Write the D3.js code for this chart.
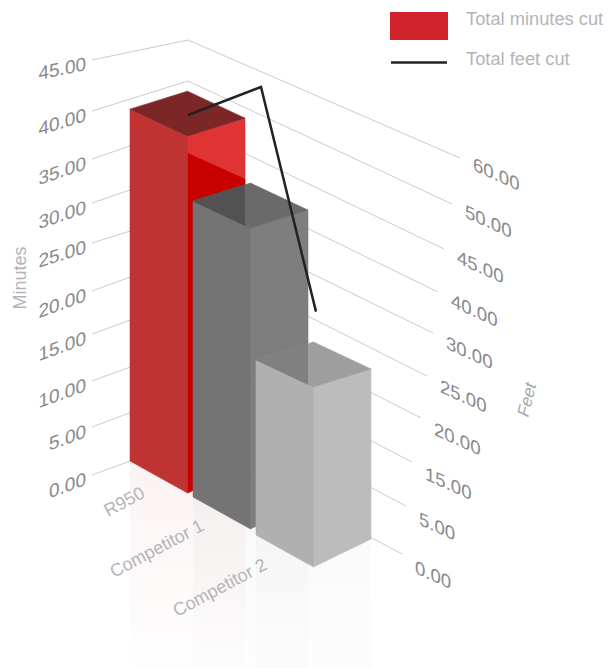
<!DOCTYPE html>
<html>
<head>
<meta charset="utf-8">
<script src="https://cdn.jsdelivr.net/npm/d3@7"></script>
<style>
  html, body { margin: 0; padding: 0; background: #fff; }
  text { font-family: "Liberation Sans", Arial, sans-serif; }
</style>
</head>
<body>
<svg id="chart" width="609" height="668"></svg>
<script>
const categories = ["R950", "Competitor 1", "Competitor 2"];
const minutesCut = [39, 32.8, 19.4];
const feetCut = [52.2, 61.8, 33.8];
const minuteTicks = [0, 5, 10, 15, 20, 25, 30, 35, 40, 45];
const feetTicks = [0, 5, 15, 20, 25, 30, 40, 45, 50, 60];

const svg = d3.select("#chart");
const defs = svg.append("defs");

// The walls of the 3d box: pixel rows of each tick at left end, back corner, right end
const leftY = d3.scaleLinear().domain(minuteTicks).range([475, 427, 381, 334, 291, 243, 203, 159, 111, 60]);
const cornerY = d3.scaleLinear().domain(minuteTicks).range([440, 391, 346, 299, 256, 213, 170, 126, 81, 40]);
const rightY = d3.scaleLinear().domain(feetTicks).range([554, 506, 462, 418, 376, 333, 292, 249, 204, 158]);
const rightX = d3.scaleLinear().domain(feetTicks).range([402, 406, 412, 421, 427, 433, 438, 444, 452, 460]);

const barX = d3.scalePoint().domain(categories).range([130, 256]);
const barBase = d3.scaleOrdinal().domain(categories).range([461, 497, 535]);
const barHeight = d3.scaleLinear().domain([0, 45]).range([0, 406]);
const lineX = d3.scaleOrdinal().domain(categories).range([188, 261, 316]);
const lineHeight = d3.scaleLinear().domain([0, 60]).range([0, 400]);

const faceW = 57.5;
const poly = pts => pts.map(p => p.join(",")).join(" ");

// Grid
const grid = svg.append("g").attr("fill", "none").attr("stroke", "#cbcbcb").attr("stroke-width", 1);
minuteTicks.forEach((m, i) => {
  const f = feetTicks[i];
  grid.append("polyline")
    .attr("points", poly([[92, leftY(m)], [188, cornerY(m)], [rightX(f), rightY(f)]]));
});

// Tick labels
svg.append("g").selectAll("text").data(minuteTicks).join("text")
  .attr("text-anchor", "end")
  .attr("font-size", 19)
  .attr("fill", "#8a8a8e")
  .attr("transform", d => {
    const slope = (cornerY(d) - leftY(d)) / 96;
    return `translate(86,${leftY(d) + 10}) skewY(${Math.atan(slope) * 180 / Math.PI})`;
  })
  .text(d => d.toFixed(2));

svg.append("g").selectAll("text").data(feetTicks).join("text")
  .attr("font-size", 18.6)
  .attr("fill", "#8a8a8e")
  .attr("transform", d => `translate(${rightX(d) + 13},${rightY(d) + d3.scaleLinear([0, 60], [19, 12])(d)}) skewY(24.5)`)
  .text(d => d.toFixed(2));

// Axis titles
svg.append("text")
  .attr("transform", "translate(26,278) rotate(-90)")
  .attr("text-anchor", "middle")
  .attr("font-size", 18)
  .attr("fill", "#b4b4b8")
  .text("Minutes");
svg.append("text")
  .attr("transform", "translate(532,402) rotate(-76) skewX(-12)")
  .attr("text-anchor", "middle")
  .attr("font-size", 17)
  .attr("fill", "#a8a8ac")
  .text("Feet");

// Floor reflections
const barColors = [
  { left: "#c03333", right: "#e03434", low: "#c80000", top: "#7c2628", over: "#7c2628", glow: "#c03333", glowOp: 0.06 },
  { left: "#747474", right: "#7e7e7e", low: "#7e7e7e", top: "#6a6a6a", over: "#525252", glow: "#747474", glowOp: 0.045 },
  { left: "#b0b0b0", right: "#bcbcbc", low: "#bcbcbc", top: "#9e9e9e", over: "#808080", glow: "#8a8a8a", glowOp: 0.04 }
];

categories.forEach((c, i) => {
  const g = defs.append("linearGradient").attr("id", `glow-${i}`)
    .attr("x1", 0).attr("y1", 0).attr("x2", 0).attr("y2", 1);
  g.append("stop").attr("offset", 0).attr("stop-color", barColors[i].glow).attr("stop-opacity", barColors[i].glowOp);
  g.append("stop").attr("offset", 1).attr("stop-color", barColors[i].glow).attr("stop-opacity", 0);
});

const reflect = svg.append("g");
categories.forEach((c, i) => {
  const x0 = barX(c), y0 = barBase(c), len = 200;
  reflect.append("polygon").attr("fill", `url(#glow-${i})`)
    .attr("points", poly([[x0, y0], [x0 + faceW, y0 + 32], [x0 + faceW, y0 + 32 + len], [x0, y0 + len]]));
  reflect.append("polygon").attr("fill", `url(#glow-${i})`)
    .attr("points", poly([[x0 + faceW, y0 + 32], [x0 + faceW * 2, y0 + 4], [x0 + faceW * 2, y0 + 4 + len], [x0 + faceW, y0 + 32 + len]]));
});

// Bars
const bars = svg.append("g").attr("stroke-width", 0.6).attr("stroke-linejoin", "round");
const face = (g, color, pts) => g.append("polygon").attr("fill", color).attr("stroke", color).attr("points", poly(pts));

categories.forEach((c, i) => {
  const x0 = barX(c), y0 = barBase(c), yt = y0 - barHeight(minutesCut[i]);
  const col = barColors[i];
  const g = bars.append("g").attr("class", "bar");

  face(g, col.right, [[x0 + faceW, yt + 27], [x0 + faceW * 2, yt + 9], [x0 + faceW * 2, y0 + 4], [x0 + faceW, y0 + 32]]);
  if (i === 0) {
    // the dark part of the red bar's side
    face(g, col.low, [[x0 + faceW, yt + 44], [x0 + faceW * 2, yt + 70], [x0 + faceW * 2, y0 + 4], [x0 + faceW, y0 + 32]]);
  }
  face(g, col.left, [[x0, yt], [x0 + faceW, yt + 27], [x0 + faceW, y0 + 32], [x0, y0]]);

  const topPts = [[x0, yt], [x0 + faceW, yt - 18], [x0 + faceW * 2, yt + 9], [x0 + faceW, yt + 27]];
  face(g, col.top, topPts);
  if (i > 0) {
    // top face is darker where the previous bar stands behind it
    const edge = barX(categories[i - 1]) + faceW * 2;
    defs.append("clipPath").attr("id", `behind-${i}`)
      .append("rect").attr("x", 0).attr("y", 0).attr("width", edge).attr("height", 668);
    face(g, col.over, topPts).attr("clip-path", `url(#behind-${i})`);
  }
});

// Feet line
const feetLine = d3.line()
  .x(d => lineX(d.cat))
  .y(d => barBase(d.cat) + 2 - lineHeight(d.feet));
svg.append("path")
  .datum(categories.map((cat, i) => ({ cat, feet: feetCut[i] })))
  .attr("d", feetLine)
  .attr("fill", "none")
  .attr("stroke", "#222")
  .attr("stroke-width", 2.5);

// Category labels
const catPos = [[108, 517], [114, 578], [177, 617]];
svg.append("g").selectAll("text").data(categories).join("text")
  .attr("font-size", 18)
  .attr("fill", "#b4b4b8")
  .attr("transform", (d, i) => `translate(${catPos[i][0]},${catPos[i][1]}) rotate(-28)`)
  .text(d => d);

// Legend
const legend = svg.append("g");
legend.append("rect").attr("x", 390).attr("y", 12).attr("width", 58).attr("height", 28).attr("fill", "#d0232b");
legend.append("line").attr("x1", 391).attr("x2", 447).attr("y1", 62.5).attr("y2", 62.5)
  .attr("stroke", "#222").attr("stroke-width", 2.5);
legend.append("text").attr("x", 466).attr("y", 25).attr("font-size", 18.3).attr("fill", "#b4b4b8").text("Total minutes cut");
legend.append("text").attr("x", 466).attr("y", 65).attr("font-size", 18.3).attr("fill", "#b4b4b8").text("Total feet cut");
</script>
</body>
</html>
